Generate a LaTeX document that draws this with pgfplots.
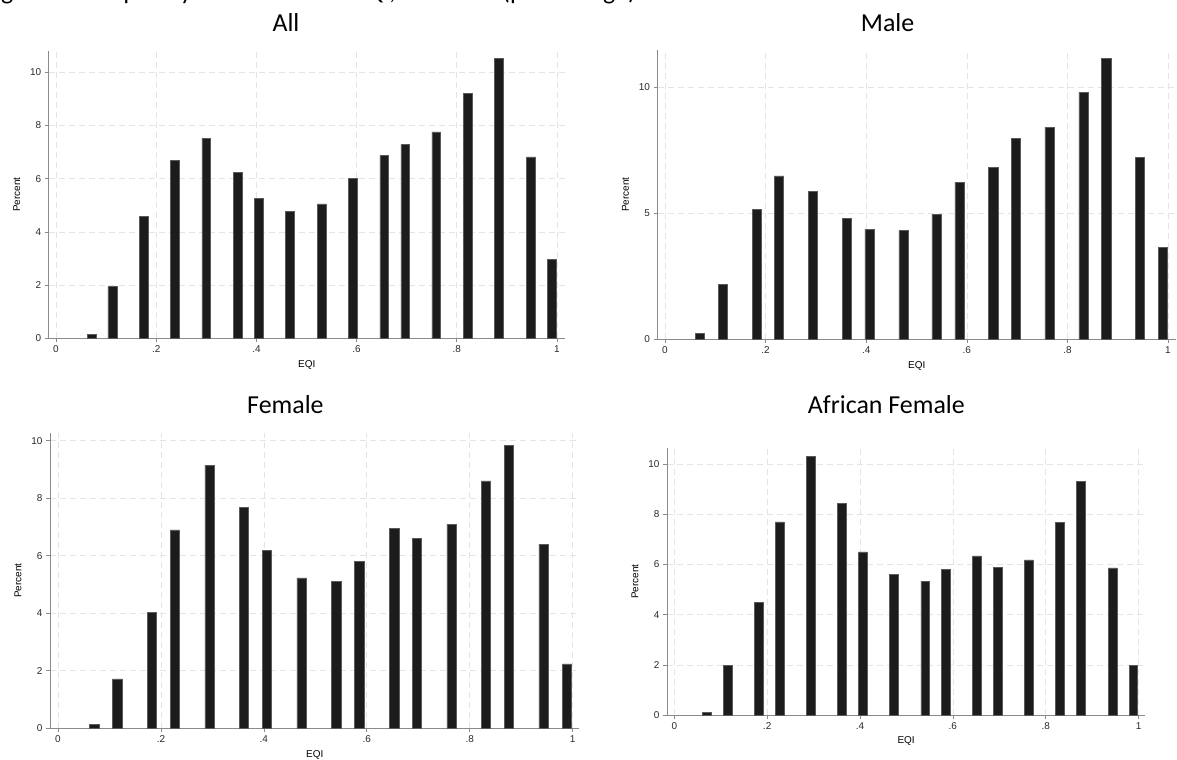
\documentclass[border=0pt]{standalone}
\usepackage{pgfplots}
\pgfplotsset{compat=1.18}
\usepackage{fontspec}
\setmainfont{Liberation Sans}
\newfontfamily\titlefont{Carlito}
\definecolor{barfill}{HTML}{1C1C1C}
\definecolor{baredge}{HTML}{5A5A5A}
\definecolor{axisgray}{HTML}{8A8A8A}
\definecolor{gridgray}{HTML}{E4E4E4}
\definecolor{ticktext}{HTML}{2A2A2A}
\pgfplotsset{
  statabar/.style={fill=barfill, draw=baredge, line width=0.5bp},
  statastyle/.style={
    scale only axis,
    axis x line=bottom, axis y line=left,
    axis line style={-, draw=axisgray, line width=0.8bp},
    tick align=outside,
    tick style={draw=axisgray, line width=0.6bp},
    major tick length=4bp,
    xtick={0,0.2,0.4,0.6,0.8,1},
    xticklabels={0,.2,.4,.6,.8,1},
    ymin=0,
    grid=major,
    major grid style={dash pattern=on 6bp off 4bp, draw=gridgray, line width=0.6bp},
    /pgf/number format/assume math mode=true,
    tick label style={font=\fontsize{10}{12}\selectfont, text=ticktext},
    xlabel={EQI}, ylabel={Percent},
    label style={font=\fontsize{11.5}{13}\selectfont, text=ticktext},
    every axis x label/.style={at={(axis description cs:0.5,0)}, yshift=-27bp, anchor=center},
    every axis y label/.style={at={(axis description cs:0,0.5)}, xshift=-32bp, rotate=90, anchor=center},
    ybar, bar width=0.0185,
    cycle list={{statabar}},
  }
}
\begin{document}
\begin{tikzpicture}
\path[use as bounding box] (0,0) rectangle (1177bp,-760bp);
\node[anchor=base west, inner sep=0, font=\titlefont\fontsize{26}{28}\selectfont] at (-17bp,1bp) {Figure 1: Frequency distribution of EQI, total};
\node[anchor=base west, inner sep=0, font=\titlefont\fontsize{26}{28}\selectfont] at (502bp,1bp) {(percentage)};
\node[anchor=base, inner sep=0, font=\titlefont\fontsize{26}{28}\selectfont] at (286bp,-31.7bp) {All};
\node[anchor=base, inner sep=0, font=\titlefont\fontsize{26}{28}\selectfont] at (887.6bp,-31.7bp) {Male};
\node[anchor=base, inner sep=0, font=\titlefont\fontsize{26}{28}\selectfont] at (285.4bp,-413.3bp) {Female};
\node[anchor=base, inner sep=0, font=\titlefont\fontsize{26}{28}\selectfont] at (886.3bp,-413.3bp) {African Female};

% All
\begin{axis}[statastyle, at={(48.8bp,-338.3bp)}, anchor=south west,
  width=516bp, height=287.6bp, xmin=-0.0144, xmax=1.0156, ymax=10.81,
  ytick={0,2,4,6,8,10}, bar width=0.0175]
\addplot[statabar] coordinates {(0.0712,0.16) (0.1125,1.94) (0.1757,4.59) (0.2376,6.69) (0.300,7.52) (0.3627,6.23) (0.404,5.26) (0.467,4.77) (0.530,5.05) (0.592,6.02) (0.655,6.88) (0.697,7.28) (0.759,7.76) (0.822,9.20) (0.8845,10.51) (0.948,6.82) (0.990,2.96)};
\end{axis}

% Male
\begin{axis}[statastyle, at={(657.5bp,-339bp)}, anchor=south west,
  width=518.4bp, height=289bp, xmin=-0.0149, xmax=1.0157, ymax=11.47,
  ytick={0,5,10}]
\addplot[statabar] coordinates {(0.0696,0.22) (0.1147,2.17) (0.1824,5.13) (0.2268,6.47) (0.2944,5.87) (0.3614,4.78) (0.4065,4.35) (0.474,4.30) (0.540,4.95) (0.5855,6.23) (0.6525,6.80) (0.6976,7.95) (0.7646,8.40) (0.832,9.78) (0.877,11.15) (0.944,7.21) (0.990,3.64)};
\end{axis}

% Female
\begin{axis}[statastyle, at={(50bp,-728bp)}, anchor=south west,
  width=529.4bp, height=294.7bp, xmin=-0.0155, xmax=1.0132, ymax=10.26,
  ytick={0,2,4,6,8,10}]
\addplot[statabar] coordinates {(0.0706,0.12) (0.1153,1.71) (0.1826,4.03) (0.2273,6.90) (0.2947,9.15) (0.3614,7.67) (0.406,6.18) (0.4734,5.23) (0.541,5.10) (0.5855,5.79) (0.653,6.94) (0.6975,6.59) (0.765,7.09) (0.8316,8.60) (0.876,9.83) (0.9437,6.40) (0.989,2.23)};
\end{axis}

% African Female
\begin{axis}[statastyle, at={(667bp,-715.3bp)}, anchor=south west,
  width=478.2bp, height=267bp, xmin=-0.0157, xmax=1.0144, ymax=10.62,
  ytick={0,2,4,6,8,10}, every axis x label/.style={at={(axis description cs:0.5,0)}, yshift=-25.4bp, anchor=center}]
\addplot[statabar] coordinates {(0.0704,0.12) (0.1149,1.98) (0.1823,4.48) (0.2268,7.69) (0.2936,10.30) (0.361,8.44) (0.4056,6.50) (0.4724,5.60) (0.5406,5.33) (0.5843,5.80) (0.6518,6.34) (0.6963,5.89) (0.7638,6.18) (0.8306,7.68) (0.8758,9.31) (0.944,5.86) (0.989,1.98)};
\end{axis}
\end{tikzpicture}
\end{document}
